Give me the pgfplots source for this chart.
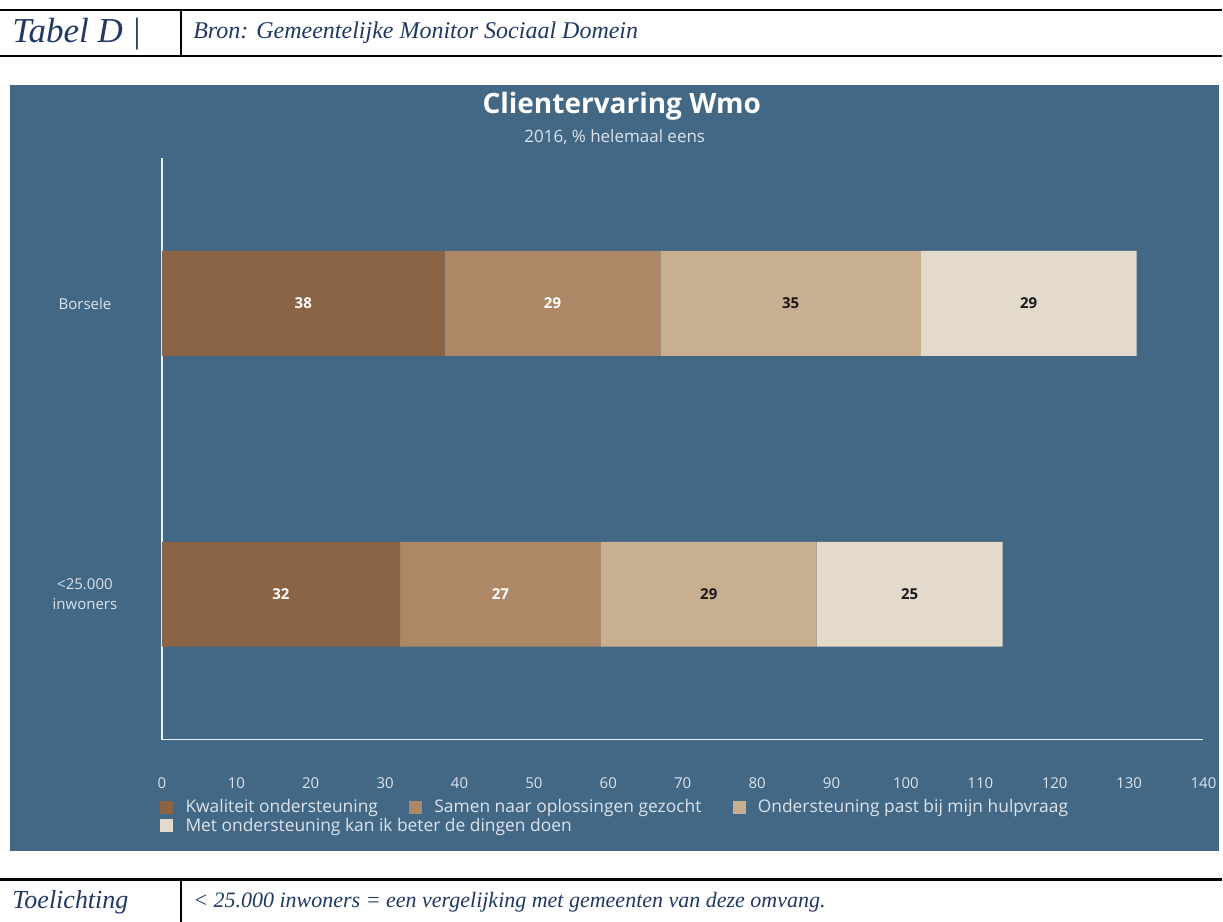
\documentclass[border=0pt]{standalone}
\usepackage{fontspec}
\setmainfont{Open Sans}
\newfontfamily\hdr{Liberation Serif}
\usepackage{pgfplots}
\pgfplotsset{compat=1.18}

\definecolor{panel}{HTML}{436886}
\definecolor{cA}{HTML}{8B6446}
\definecolor{cB}{HTML}{AE8767}
\definecolor{cC}{HTML}{C8AF90}
\definecolor{cD}{HTML}{E3DACC}
\definecolor{navy}{HTML}{1F3864}
\definecolor{tickc}{HTML}{DCE3EA}
\definecolor{axisc}{HTML}{EEF1F4}

\pgfplotsset{
  sq/.style={legend image code/.code={\fill[##1] (0pt,-3.25pt) rectangle (6.5pt,3.25pt);}},
  chartbox/.style={at={(81pt,-370pt)}, anchor=south west,
    scale only axis, width=521pt, height=291pt,
    xmin=0, xmax=140, ymin=-0.5, ymax=1.5, clip=false},
}

\begin{document}
\begin{tikzpicture}
\begin{scope}[x=0.5pt,y=-0.5pt]
  \useasboundingbox (0,0) rectangle (1223,922);
  % header row
  \draw[line width=1.2pt] (0,10) -- (1223,10);
  \draw[line width=1.2pt] (0,56) -- (1223,56);
  \draw[line width=1.2pt] (181,10) -- (181,56);
  \node[anchor=west, text=navy, inner sep=0pt] at (12,34) {\hdr\itshape\fontsize{17.5}{19}\selectfont Tabel D |};
  \node[anchor=west, text=navy, inner sep=0pt] at (193,33) {\hdr\itshape\fontsize{12}{14}\selectfont Bron: Gemeentelijke Monitor Sociaal Domein};
  % footer row
  \draw[line width=1.2pt] (0,880) -- (1223,880);
  \draw[line width=1.2pt] (181,880) -- (181,922);
  \node[anchor=west, text=navy, inner sep=0pt] at (12,903) {\hdr\itshape\fontsize{13}{14}\selectfont Toelichting};
  \node[anchor=west, text=navy, inner sep=0pt] at (193,903) {\hdr\itshape\fontsize{11}{13}\selectfont < 25.000 inwoners = een vergelijking met gemeenten van deze omvang.};
  % chart panel
  \fill[panel] (10,85) rectangle (1220,851);
  \node[text=white, font=\bfseries\fontsize{14}{16}\selectfont] at (622,106) {Clientervaring Wmo};
  \node[text=tickc, font=\fontsize{8.5}{10}\selectfont] at (615,137) {2016, \% helemaal eens};
\end{scope}

\begin{axis}[
  chartbox,
  xbar stacked, bar width=52.5pt,
  axis lines*=left,
  axis line style={draw=axisc, line width=0.8pt, -},
  xtick={0,10,...,140}, ytick={0,1},
  yticklabels={{<25.000\\inwoners},Borsele},
  major tick length=0pt,
  tick label style={font=\fontsize{7.5}{10}\selectfont, text=tickc},
  yticklabel style={align=center, anchor=center, xshift=-38.5pt},
  xticklabel style={anchor=center, yshift=-21.5pt},
  /pgf/number format/assume math mode=true,
  legend columns=3,
  legend cell align=left,
  legend style={at={(0,0)}, anchor=north west, xshift=-1pt, yshift=-29pt,
    draw=none, fill=none, inner sep=0pt, text=tickc,
    font=\fontsize{8.7}{10}\selectfont, row sep=0pt,
    nodes={inner sep=0.6pt},
    /tikz/every even column/.append style={column sep=15pt},
    /tikz/every odd column/.append style={column sep=5.5pt},
    /tikz/column 4/.append style={column sep=20pt}},
]
\addplot[fill=cA, draw=none, sq] coordinates {(32,0) (38,1)};
\addlegendentry{Kwaliteit ondersteuning}
\addplot[fill=cB, draw=none, sq] coordinates {(27,0) (29,1)};
\addlegendentry{Samen naar oplossingen gezocht}
\addplot[fill=cC, draw=none, sq] coordinates {(29,0) (35,1)};
\addlegendentry{Ondersteuning past bij mijn hulpvraag}
\addplot[fill=cD, draw=none, sq] coordinates {(25,0) (29,1)};
\addlegendentry{\makebox[0pt][l]{Met ondersteuning kan ik beter de dingen doen}}
\end{axis}

% value labels in the middle of each segment
\begin{axis}[
  chartbox, hide axis,
  nodes near coords, point meta=explicit symbolic,
  nodes near coords align={center},
  every node near coord/.append style={anchor=center, font=\bfseries\fontsize{7.5}{9}\selectfont},
]
\addplot[draw=none, mark=none, nodes near coords style={text=white}]
  coordinates {(16,0) [32] (45.5,0) [27] (19,1) [38] (52.5,1) [29]};
\addplot[draw=none, mark=none, nodes near coords style={text=black!90}]
  coordinates {(73.5,0) [29] (100.5,0) [25] (84.5,1) [35] (116.5,1) [29]};
\end{axis}
\end{tikzpicture}
\end{document}
